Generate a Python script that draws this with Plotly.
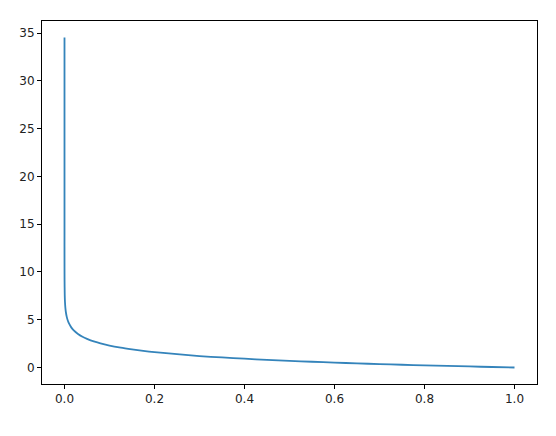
import plotly.graph_objects as go

# Values
x_vals = [1e-15, 1e-12, 1e-10, 1e-8, 1e-6, 1e-5, 1e-4, 0.0005, 0.001, 0.002, 0.003,
          0.005, 0.0075, 0.01, 0.015, 0.02, 0.03, 0.04, 0.05, 0.065, 0.08, 0.1,
          0.125, 0.15, 0.175, 0.2, 0.25, 0.3, 0.35, 0.4, 0.45, 0.5, 0.55, 0.6,
          0.65, 0.7, 0.75, 0.8, 0.85, 0.9, 0.95, 1.0]
y_vals = [34.54, 27.63, 23.03, 18.42, 13.82, 11.51, 9.21, 7.60, 6.91, 6.21, 5.81,
          5.30, 4.89, 4.61, 4.20, 3.91, 3.51, 3.22, 3.00, 2.73, 2.53, 2.30,
          2.08, 1.90, 1.74, 1.61, 1.39, 1.20, 1.05, 0.92, 0.80, 0.69, 0.60, 0.51,
          0.43, 0.36, 0.29, 0.22, 0.16, 0.11, 0.05, 0.0]

x_ticks = [0.0, 0.2, 0.4, 0.6, 0.8, 1.0]
y_ticks = [0, 5, 10, 15, 20, 25, 30, 35]

fig = go.Figure()
fig.add_trace(go.Scatter(x=x_vals, y=y_vals, mode="lines",
                         line=dict(color="#1f77b4", width=1.8, shape="spline", smoothing=0.6),
                         opacity=0.9, showlegend=False))

axis_common = dict(showline=True, linecolor="black", linewidth=1, mirror=True,
                   ticks="outside", ticklen=4, tickwidth=1, tickcolor="black",
                   showgrid=False, zeroline=False, automargin=False,
                   tickfont=dict(family="DejaVu Sans", size=12, color="#222222"))

fig.update_layout(
    width=556, height=436,
    margin=dict(l=42, r=19, t=21, b=52),
    paper_bgcolor="white", plot_bgcolor="white",
    xaxis=dict(range=[-0.05, 1.05], tickvals=x_ticks,
               ticktext=[f"{v:.1f}" for v in x_ticks], **axis_common),
    yaxis=dict(range=[-1.727, 36.27], tickvals=y_ticks,
               ticktext=[str(v) for v in y_ticks], **axis_common),
)

fig.write_html("out.html", config={"displayModeBar": False},
               post_script="document.body.style.margin='0';document.body.style.overflow='hidden';")
